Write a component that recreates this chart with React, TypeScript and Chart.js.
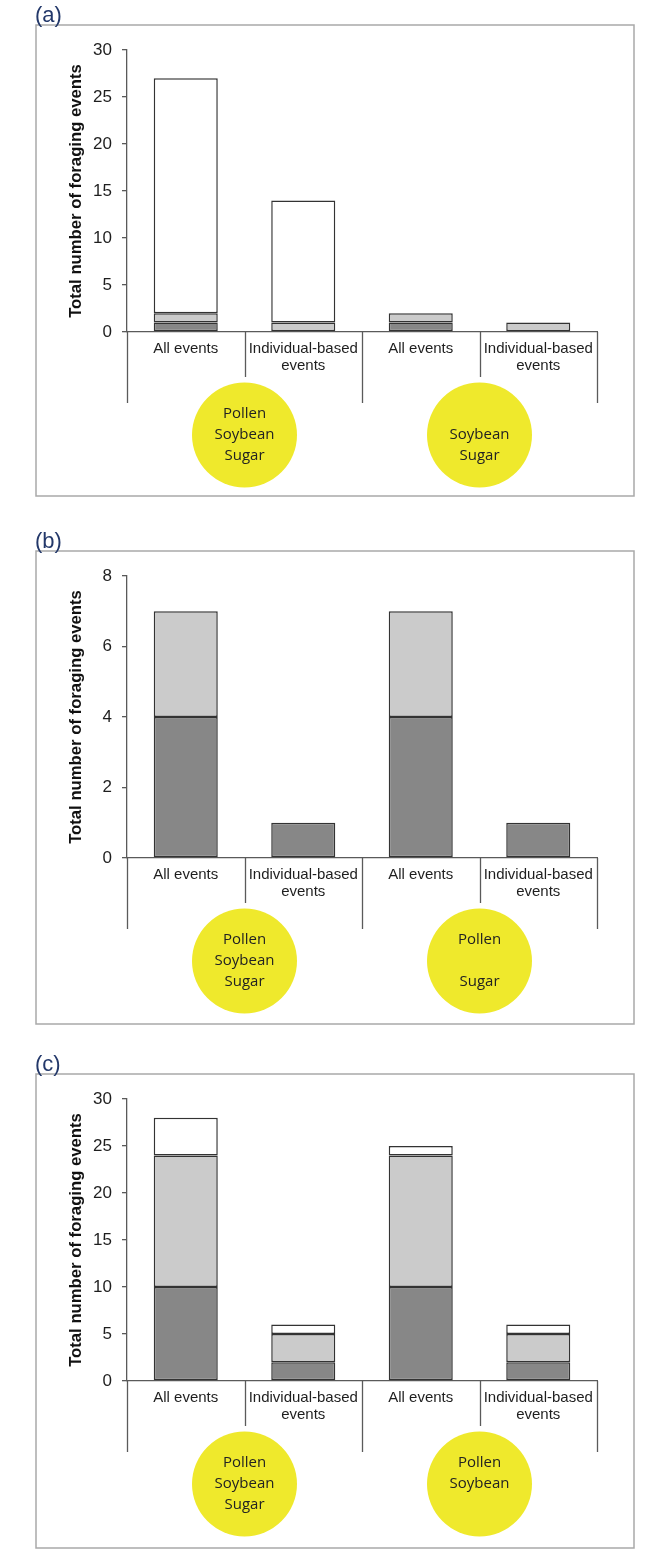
import React, { useEffect, useRef } from "react";
import { Chart, registerables } from "chart.js";

Chart.register(...registerables);

// ---------- data ----------
const categories: string[][] = [
  ["All events"],
  ["Individual-based", "events"],
  ["All events"],
  ["Individual-based", "events"],
];

const aDark = [1, 0, 1, 0];
const aLight = [1, 1, 1, 1];
const aWhite = [25, 13, 0, 0];
const aMax = 30;
const aStep = 5;
const aCircles = [
  ["Pollen", "Soybean", "Sugar"],
  ["", "Soybean", "Sugar"],
];

const bDark = [4, 1, 4, 1];
const bLight = [3, 0, 3, 0];
const bWhite = [0, 0, 0, 0];
const bMax = 8;
const bStep = 2;
const bCircles = [
  ["Pollen", "Soybean", "Sugar"],
  ["Pollen", "", "Sugar"],
];

const cDark = [10, 2, 10, 2];
const cLight = [14, 3, 14, 3];
const cWhite = [4, 1, 1, 1];
const cMax = 30;
const cStep = 5;
const cCircles = [
  ["Pollen", "Soybean", "Sugar"],
  ["Pollen", "Soybean", ""],
];

const yTitle = "Total number of foraging events";
const panelLabels = ["(a)", "(b)", "(c)"];

// ---------- styles ----------
const W = 666;
const H = 504;
const DARK = "#878787";
const LIGHT = "#cbcbcb";
const WHITE = "#ffffff";
const EDGE = "#333333";
const AXIS = "#5a5a5a";
const YELLOW = "#efe92c";
const LABEL_BLUE = "#23386a";

const nz = (arr: number[]) => arr.map((v) => (v === 0 ? null : v));

type PanelProps = {
  top: number;
  label: string;
  dark: number[];
  light: number[];
  white: number[];
  max: number;
  step: number;
  circles: string[][];
  frameBottom: number;
};

function Panel(props: PanelProps) {
  const ref = useRef<HTMLCanvasElement | null>(null);

  useEffect(() => {
    const canvas = ref.current;
    if (!canvas) return;

    const deco = {
      id: "deco",
      afterDraw(chart: any) {
        const ctx = chart.ctx as CanvasRenderingContext2D;
        const area = chart.chartArea;
        ctx.save();
        // frame
        ctx.strokeStyle = "#a9a9a9";
        ctx.lineWidth = 1.5;
        ctx.strokeRect(36, 25, 634 - 36, props.frameBottom - 25);
        // panel label
        ctx.fillStyle = LABEL_BLUE;
        ctx.font = "22px 'Liberation Sans', Arial, sans-serif";
        ctx.textAlign = "left";
        ctx.textBaseline = "alphabetic";
        ctx.fillText(props.label, 35, 21.5);
        // separators
        const n = categories.length;
        const catW = (area.right - area.left) / n;
        ctx.strokeStyle = AXIS;
        ctx.lineWidth = 1.3;
        for (let i = 0; i <= n; i++) {
          const xx = Math.round(area.left + i * catW) + 0.5;
          const len = i % 2 === 0 ? 71 : 45;
          ctx.beginPath();
          ctx.moveTo(xx, area.bottom);
          ctx.lineTo(xx, area.bottom + len);
          ctx.stroke();
        }
        // circles
        const cy = area.bottom + 103;
        const r = 52.5;
        props.circles.forEach((lines, gi) => {
          const cx = area.left + (gi * 2 + 1) * catW;
          ctx.beginPath();
          ctx.arc(cx, cy, r, 0, Math.PI * 2);
          ctx.fillStyle = YELLOW;
          ctx.fill();
          ctx.fillStyle = "#222222";
          ctx.font = "15px 'Open Sans', 'Liberation Sans', sans-serif";
          ctx.textAlign = "center";
          ctx.textBaseline = "middle";
          lines.forEach((t, li) => {
            if (t) ctx.fillText(t, cx, cy + (li - 1) * 21);
          });
        });
        ctx.restore();
      },
    };

    const barStyle = {
      borderColor: EDGE,
      borderWidth: 1.5,
      borderSkipped: false as const,
    };

    const chart = new Chart(canvas, {
      type: "bar",
      data: {
        labels: categories,
        datasets: [
          { data: nz(props.dark) as any, backgroundColor: DARK, ...barStyle },
          { data: nz(props.light) as any, backgroundColor: LIGHT, ...barStyle },
          { data: nz(props.white) as any, backgroundColor: WHITE, ...barStyle },
        ],
      },
      options: {
        responsive: false,
        animation: false,
        devicePixelRatio: 1,
        layout: { padding: { left: 62, right: 69, top: 50, bottom: 112 } },
        datasets: {
          bar: { barPercentage: 0.545, categoryPercentage: 1 },
        },
        plugins: {
          legend: { display: false },
          tooltip: { enabled: false },
        },
        scales: {
          x: {
            stacked: true,
            offset: true,
            grid: { display: false, drawTicks: false },
            border: { display: true, color: AXIS, width: 1.3 },
            ticks: {
              color: "#1e1e1e",
              padding: 8,
              maxRotation: 0,
              autoSkip: false,
              font: { family: "'Liberation Sans', Arial, sans-serif", size: 15, lineHeight: 1.15 },
            },
            afterFit: (s: any) => {
              s.height = 60;
            },
          },
          y: {
            stacked: true,
            min: 0,
            max: props.max,
            grid: {
              drawOnChartArea: false,
              drawTicks: true,
              tickLength: 5,
              color: AXIS,
              lineWidth: 1.3,
            },
            border: { display: true, color: AXIS, width: 1.3 },
            ticks: {
              stepSize: props.step,
              color: "#1e1e1e",
              padding: 10,
              font: { family: "'Liberation Sans', Arial, sans-serif", size: 17 },
            },
            title: {
              display: true,
              text: yTitle,
              color: "#111111",
              padding: { top: 4, bottom: 4 },
              font: { family: "'Liberation Sans', Arial, sans-serif", size: 16.7, weight: "bold" },
            },
            afterFit: (s: any) => {
              s.width = 65;
            },
          },
        },
      },
      plugins: [deco],
    });

    return () => chart.destroy();
  }, []);

  return (
    <canvas
      ref={ref}
      width={W}
      height={H}
      style={{ position: "absolute", left: 0, top: props.top, width: W, height: H, display: "block" }}
    />
  );
}

export default function App() {
  return (
    <div
      style={{
        position: "absolute",
        left: 0,
        top: 0,
        width: W,
        height: 1553,
        overflow: "hidden",
        background: "#ffffff",
      }}
    >
      <Panel top={0} label={panelLabels[0]} dark={aDark} light={aLight} white={aWhite} max={aMax} step={aStep} circles={aCircles} frameBottom={496} />
      <Panel top={526} label={panelLabels[1]} dark={bDark} light={bLight} white={bWhite} max={bMax} step={bStep} circles={bCircles} frameBottom={498} />
      <Panel top={1049} label={panelLabels[2]} dark={cDark} light={cLight} white={cWhite} max={cMax} step={cStep} circles={cCircles} frameBottom={499} />
    </div>
  );
}
